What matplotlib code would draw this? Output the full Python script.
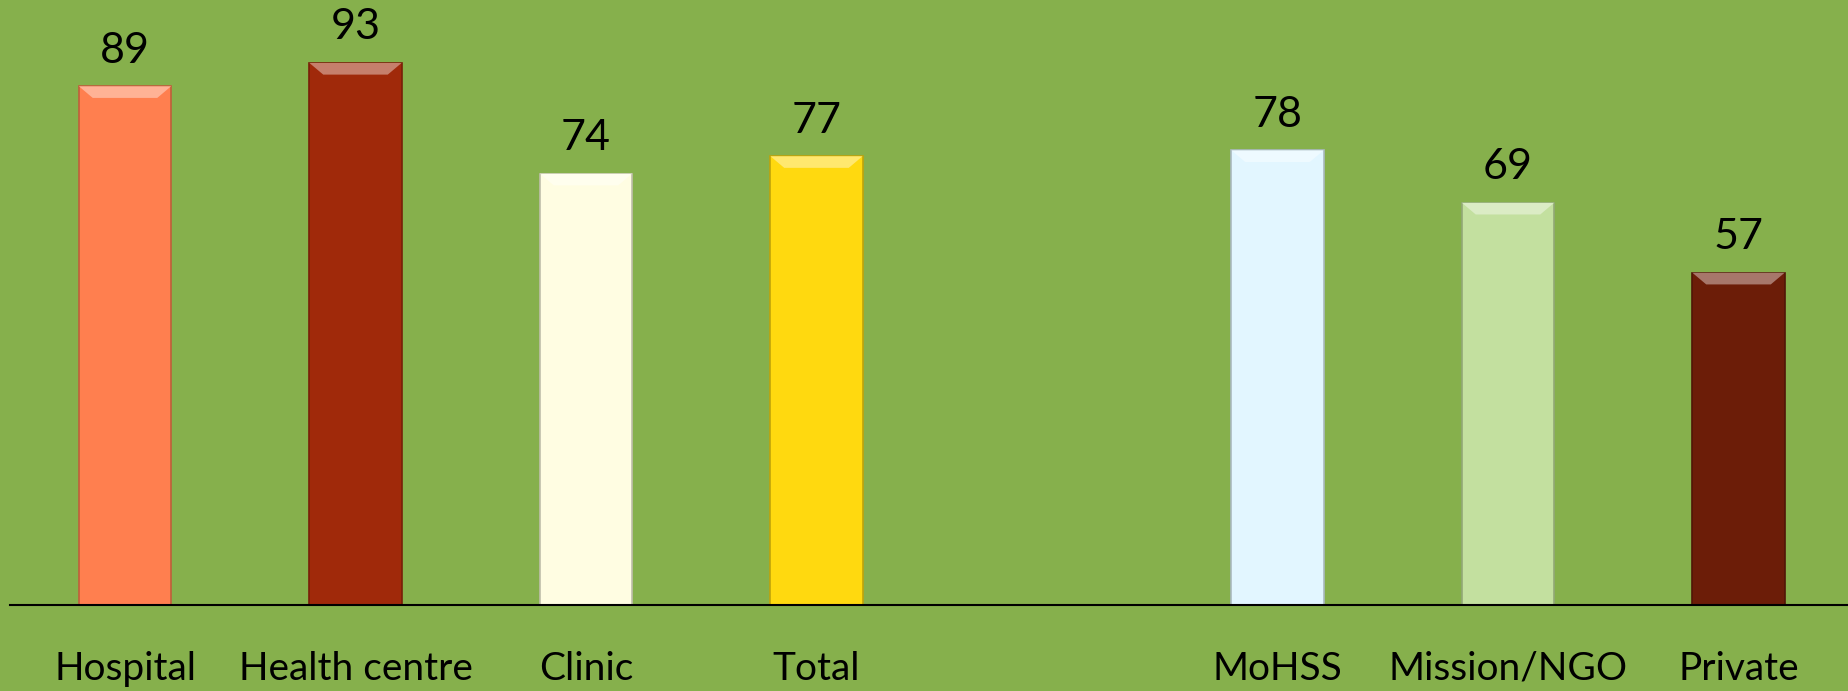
import matplotlib.pyplot as plt
import matplotlib.colors as mcolors
from matplotlib.patches import Polygon
import numpy as np

categories = ["Hospital", "Health centre", "Clinic", "Total", "", "MoHSS", "Mission/NGO", "Private"]
values = [89, 93, 74, 77, None, 78, 69, 57]
colors = ["#FF7F4F", "#A0290A", "#FFFDE2", "#FFD90F", None, "#E2F6FF", "#C3E09F", "#6C1D08"]
bg = "#86B04C"

plt.rcParams['font.family'] = ['Lato', 'DejaVu Sans']

fig = plt.figure(figsize=(18.49, 6.91), dpi=100, facecolor=bg)
ax = fig.add_axes([9.75 / 1849, (691 - 605) / 691, 1844 / 1849, 605 / 691])
ax.set_facecolor(bg)

width = 0.4
for i, (v, c) in enumerate(zip(values, colors)):
    if v is None:
        continue
    dark = tuple(np.array(mcolors.to_rgb(c)) * 0.75)
    light = tuple(np.array(mcolors.to_rgb(c)) * 0.6 + 0.4)
    ax.bar(i, v, width=width, color=c, edgecolor=dark, linewidth=1.2, zorder=2)
    # bevel highlight at the top
    bx = 0.06
    by = 2.0
    top = Polygon([(i - width / 2, v), (i + width / 2, v),
                   (i + width / 2 - bx, v - by), (i - width / 2 + bx, v - by)],
                  closed=True, facecolor=light, edgecolor='none', zorder=3)
    ax.add_patch(top)
    ax.annotate(f"{v}", (i, v), xytext=(0, 17), textcoords='offset points',
                ha='center', va='baseline', fontsize=31, color='black')

ax.set_xlim(-0.5, 7.5)
ax.set_ylim(0, 103.8)
ax.set_xticks(range(len(categories)))
ax.set_xticklabels(categories, fontsize=28)
ax.tick_params(axis='x', length=0, pad=33)
ax.set_yticks([])
for s in ['top', 'right', 'left']:
    ax.spines[s].set_visible(False)
ax.spines['bottom'].set_color('black')
ax.spines['bottom'].set_linewidth(1.5)

fig.savefig("out.png", dpi=100, facecolor=bg)
